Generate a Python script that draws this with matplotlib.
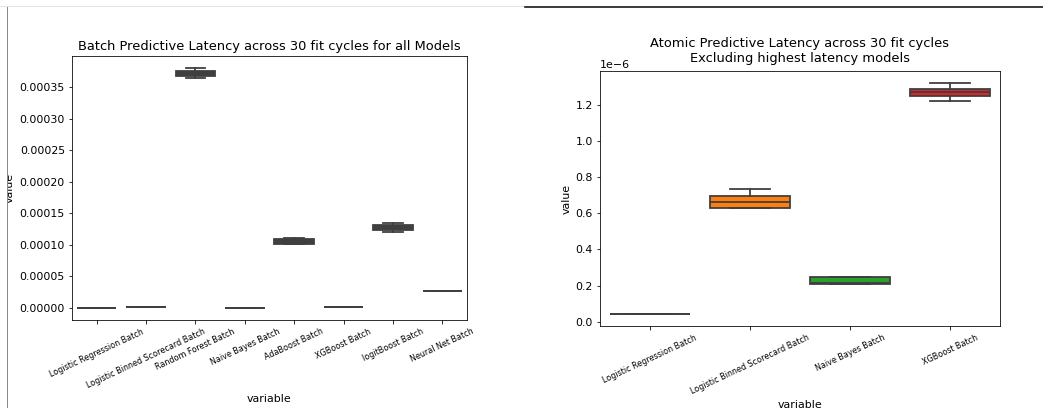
import numpy as np
import matplotlib.pyplot as plt
from matplotlib.lines import Line2D
from matplotlib.patches import Rectangle

# ---- Batch latency, all models (seconds) ----
batch_models = ['Logistic Regression Batch', 'Logistic Binned Scorecard Batch',
                'Random Forest Batch', 'Naive Bayes Batch', 'AdaBoost Batch',
                'XGBoost Batch', 'logitBoost Batch', 'Neural Net Batch']
batch_whislo = [0.05e-6, 1.0e-6, 364.6e-6, 0.2e-6, 101.0e-6, 1.2e-6, 121.0e-6, 27.5e-6]
batch_q1     = [0.05e-6, 1.0e-6, 367.2e-6, 0.2e-6, 101.9e-6, 1.2e-6, 124.2e-6, 27.5e-6]
batch_med    = [0.05e-6, 1.0e-6, 371.0e-6, 0.2e-6, 105.5e-6, 1.2e-6, 127.5e-6, 27.5e-6]
batch_q3     = [0.05e-6, 1.0e-6, 374.8e-6, 0.2e-6, 108.8e-6, 1.2e-6, 130.8e-6, 27.5e-6]
batch_whishi = [0.05e-6, 1.0e-6, 380.0e-6, 0.2e-6, 110.5e-6, 1.2e-6, 134.0e-6, 27.5e-6]

# ---- Atomic latency, excluding the slow models ----
atomic_models = ['Logistic Regression Batch', 'Logistic Binned Scorecard Batch',
                 'Naive Bayes Batch', 'XGBoost Batch']
atomic_whislo = [0.040e-6, 0.630e-6, 0.209e-6, 1.220e-6]
atomic_q1     = [0.040e-6, 0.630e-6, 0.209e-6, 1.252e-6]
atomic_med    = [0.040e-6, 0.665e-6, 0.212e-6, 1.270e-6]
atomic_q3     = [0.040e-6, 0.698e-6, 0.2455e-6, 1.289e-6]
atomic_whishi = [0.040e-6, 0.733e-6, 0.2455e-6, 1.324e-6]

PALETTE = ['#1f77b4', '#ff7f0e', '#2ca02c', '#d62728']
LINE = '#3f3f3f'
W, H, DPI = 1043, 408, 72

plt.rcParams.update({'font.size': 11, 'axes.titlesize': 13,
                     'axes.labelsize': 11, 'xtick.labelsize': 8,
                     'ytick.labelsize': 11})


def stats(lo, q1, med, q3, hi):
    return [dict(whislo=a, q1=b, med=c, q3=d, whishi=e, fliers=[])
            for a, b, c, d, e in zip(lo, q1, med, q3, hi)]


def draw_box(ax, st, colors):
    lw = 1.8
    bp = ax.bxp(st, positions=range(len(st)), widths=0.8, patch_artist=True,
                showfliers=False,
                boxprops=dict(edgecolor=LINE, linewidth=lw),
                medianprops=dict(color=LINE, linewidth=lw),
                whiskerprops=dict(color=LINE, linewidth=lw),
                capprops=dict(color=LINE, linewidth=lw))
    for patch, c in zip(bp['boxes'], colors):
        patch.set_facecolor(c)
    ax.set_xlim(-0.5, len(st) - 0.5)


fig = plt.figure(figsize=(W / DPI, H / DPI), dpi=DPI)

# left figure
ax1 = fig.add_axes([72 / W, 1 - 320 / H, 395 / W, 264 / H])
draw_box(ax1, stats(batch_whislo, batch_q1, batch_med, batch_q3, batch_whishi),
         ['#3f3f3f'] * len(batch_models))
ax1.set_xticks(range(len(batch_models)))
ax1.set_xticklabels(batch_models, rotation=25)
ax1.set_title('Batch Predictive Latency across 30 fit cycles for all Models')
ax1.set_xlabel('variable')
ax1.set_ylabel('value')
ax1.yaxis.set_label_coords(-0.145, 0.5)

# right figure
ax2 = fig.add_axes([600 / W, 1 - 326 / H, 400 / W, 255 / H])
draw_box(ax2, stats(atomic_whislo, atomic_q1, atomic_med, atomic_q3, atomic_whishi),
         PALETTE)
ax2.set_xticks(range(len(atomic_models)))
ax2.set_xticklabels(atomic_models, rotation=25)
ax2.set_title('Atomic Predictive Latency across 30 fit cycles\n'
              'Excluding highest latency models', pad=9)
ax2.set_xlabel('variable')
ax2.set_ylabel('value')

# screenshot edges (left label is cut off by the crop)
fig.add_artist(Rectangle((0, 0), 7 / W, 1, transform=fig.transFigure,
                         facecolor='white', edgecolor='none', zorder=5))
fig.add_artist(Line2D([0, 525 / W], [1 - 6 / H] * 2, color='#e3e3e3', lw=1, zorder=6))
fig.add_artist(Line2D([525 / W, 1], [1 - 7 / H] * 2, color='#111111', lw=1.6, zorder=6))
fig.add_artist(Line2D([7 / W] * 2, [0, 1 - 7 / H], color='#8a8a8a', lw=1, zorder=6))

fig.savefig('out.png', dpi=DPI)
